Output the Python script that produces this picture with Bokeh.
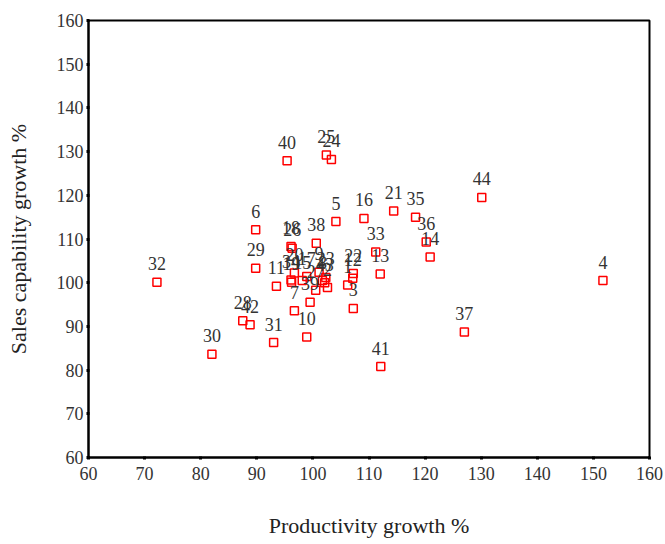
from bokeh.plotting import figure
from bokeh.models import ColumnDataSource, FixedTicker, Range1d, LabelSet
from bokeh.embed import file_html
from bokeh.resources import INLINE

ids = [str(i) for i in range(1, 45)]
productivity = [106.2, 102.6, 107.2, 151.7, 104.1, 89.8, 96.7, 101.7, 101.1, 98.9,
                93.5, 107.1, 112.0, 120.9, 98.1, 109.1, 98.9, 96.1, 96.2, 96.7,
                114.4, 107.2, 102.3, 103.3, 102.4, 96.3, 100.5, 87.5, 89.8, 82.0,
                93.0, 72.2, 111.2, 96.1, 118.3, 120.2, 127.0, 100.6, 99.5, 95.4,
                112.1, 88.8, 102.1, 130.1]
sales = [99.5, 98.9, 94.1, 100.5, 114.0, 112.1, 93.6, 100.5, 102.4, 87.6,
         99.2, 101.0, 102.0, 105.9, 100.5, 114.7, 101.4, 108.3, 100.1, 102.2,
         116.4, 102.1, 101.2, 128.2, 129.2, 107.9, 98.3, 91.3, 103.3, 83.6,
         86.3, 100.1, 107.0, 100.6, 115.0, 109.3, 88.7, 109.0, 95.5, 127.9,
         80.8, 90.4, 100.0, 119.5]
ticks = [60, 70, 80, 90, 100, 110, 120, 130, 140, 150, 160]

src = ColumnDataSource(dict(x=productivity, y=sales, t=ids))

p = figure(width=665, height=544, output_backend="svg", toolbar_location=None,
           x_range=Range1d(60, 160), y_range=Range1d(60, 160),
           min_border_left=88, min_border_right=16, min_border_top=20, min_border_bottom=87)
p.xgrid.visible = False
p.ygrid.visible = False
p.outline_line_color = "black"
p.outline_line_width = 2

p.scatter("x", "y", source=src, marker="square", size=8, fill_color=None,
          line_color="red", line_width=1.5)

labels = LabelSet(x="x", y="y", text="t", source=src, text_align="center",
                  text_baseline="bottom", y_offset=12, text_font="Liberation Serif",
                  text_font_size="18px", text_color="#333333")
p.add_layout(labels)

for ax in (p.xaxis[0], p.yaxis[0]):
    ax.ticker = FixedTicker(ticks=ticks)
    ax.minor_tick_line_color = None
    ax.axis_line_color = "black"
    ax.axis_line_width = 2
    ax.major_tick_line_color = "black"
    ax.major_tick_line_width = 3
    ax.major_tick_in = 1
    ax.major_tick_out = 2
    ax.major_label_text_font = "Liberation Serif"
    ax.major_label_text_font_size = "18px"
    ax.major_label_text_color = "#333333"
    ax.axis_label_text_font = "Liberation Serif"
    ax.axis_label_text_font_size = "22px"
    ax.axis_label_text_font_style = "normal"
    ax.axis_label_text_color = "#222222"

p.xaxis.axis_label = "Productivity growth %"
p.yaxis.axis_label = "Sales capability growth %"
p.xaxis.major_label_standoff = 7
p.xaxis.axis_label_standoff = 30
p.yaxis.major_label_standoff = 3
p.yaxis.axis_label_standoff = 23

open("out.html", "w").write(file_html(p, INLINE))
